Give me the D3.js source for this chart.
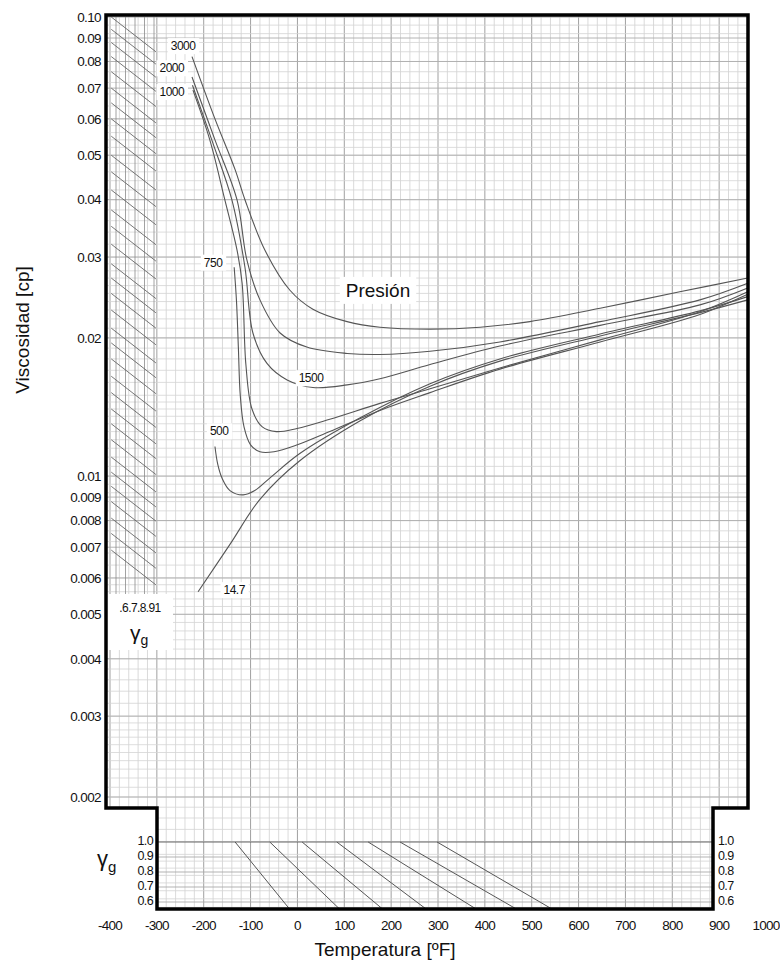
<!DOCTYPE html>
<html><head><meta charset="utf-8">
<script src="https://cdn.jsdelivr.net/npm/d3@7"></script>
<style>body{margin:0;background:#fff}svg{display:block}text{font-family:"Liberation Sans",Arial,sans-serif;fill:#111}</style>
</head><body><svg id="c" width="780" height="974"></svg>
<script>
// ---------- data ----------
const tempTicks=[-400,-300,-200,-100,0,100,200,300,400,500,600,700,800,900,1000];
const viscTicks=[0.1,0.09,0.08,0.07,0.06,0.05,0.04,0.03,0.02,0.01,0.009,0.008,0.007,0.006,0.005,0.004,0.003,0.002];
const viscTickLabels=["0.10","0.09","0.08","0.07","0.06","0.05","0.04","0.03","0.02","0.01","0.009","0.008","0.007","0.006","0.005","0.004","0.003","0.002"];
const pressureNames=["3000","2000","1500","1000","750","500","14.7"];
const curve3000=[[-225,0.082],[-176,0.060],[-133,0.0465],[-112,0.040],[-69,0.031],[-16,0.0254],[33,0.0231],[106,0.0217],[176,0.0211],[283,0.0209],[390,0.0211],[496,0.0217],[646,0.0232],[816,0.0252],[961,0.0270]];
const curve2000=[[-225,0.074],[-176,0.054],[-129,0.040],[-108,0.0296],[-80,0.0242],[-37,0.0205],[20,0.0191],[106,0.0185],[176,0.0184],[283,0.0187],[432,0.0196],[646,0.0217],[859,0.0242],[961,0.0263]];
const curve1500=[[-224,0.071],[-180,0.053],[-140,0.040],[-112,0.0285],[-95,0.0205],[-65,0.0176],[-22,0.0162],[33,0.0156],[106,0.0158],[176,0.0163],[283,0.0175],[432,0.0192],[646,0.0213],[859,0.0236],[961,0.0257]];
const curve1000=[[-223,0.0693],[-187,0.054],[-155,0.040],[-129,0.0311],[-118,0.0263],[-110,0.0175],[-97,0.0140],[-75,0.0128],[-45,0.0125],[-1,0.0127],[69,0.0133],[176,0.0144],[283,0.0155],[432,0.0172],[646,0.0198],[859,0.0228],[961,0.0252]];
const curve750=[[-135,0.0285],[-130,0.0240],[-126,0.0190],[-122,0.0150],[-114,0.0128],[-100,0.0117],[-80,0.0113],[-50,0.0113],[0,0.0117],[69,0.0125],[176,0.0139],[283,0.0152],[432,0.0171],[646,0.0196],[859,0.0225],[961,0.0249]];
const curve500=[[-176,0.0116],[-170,0.0106],[-161,0.0099],[-144,0.0093],[-116,0.0091],[-91,0.0093],[-59,0.0099],[5,0.0112],[134,0.0134],[283,0.0159],[432,0.0180],[646,0.0204],[859,0.0229],[961,0.0246]];
const curve14_7=[[-212,0.0056],[-144,0.0071],[-80,0.0089],[5,0.0108],[134,0.0132],[283,0.0157],[432,0.0178],[646,0.0202],[859,0.0227],[961,0.0242]];
const curveLabels=[["3000",-244,0.0865],["2000",-268,0.0774],["1000",-268,0.0687],["750",-180,0.0292],["1500",29,0.01635],["500",-167,0.01253],["14.7",-135,0.00565]];
const gammaTicks=[1.0,0.9,0.8,0.7,0.6];
const gammaTickLabels=["1.0","0.9","0.8","0.7","0.6"];
const gammaLeftVals=[0.6,0.7,0.8,0.9,1.0];
const gammaLeftDiagStarts=[0.1,0.094,0.088,0.082,0.076,0.07,0.065,0.06,0.055,0.05,0.046,0.042,0.038,0.035,0.032,0.029,0.027,0.025,0.023,0.021,0.0195,0.018,0.0165,0.0152,0.014,0.013,0.012,0.011,0.0102,0.0095,0.0088,0.0081,0.0075,0.0069];
const gammaDiagRatio=0.84;
const gammaBottomStarts=[-133,-59,10,84,151,219,298];
const gammaBottomEnds=[-16,91,183,276,383,469,545];

// ---------- layout ----------
const svg=d3.select("#c");
const x=d3.scaleLinear().domain([-400,1000]).range([110,766]);
const y=d3.scaleLog().domain([0.1,0.002]).range([17,797]);
const gyB=d3.scaleLinear().domain([0.6,1.0]).range([902,842]);
const gxL=d3.scaleLinear().domain([0.6,1.0]).range([116,154]);
const F={l:106,t:15,r:748,step:808,ll:157,lr:713,b:909};
const framePts=[[F.l,F.t],[F.r,F.t],[F.r,F.step],[F.lr,F.step],[F.lr,F.b],[F.ll,F.b],[F.ll,F.step],[F.l,F.step]];

svg.append("clipPath").attr("id","fr").append("polygon").attr("points",framePts.map(p=>p.join(",")).join(" "));
const g=svg.append("g").attr("clip-path","url(#fr)");

const vMinor=d3.range(-420,1001,20);
g.selectAll(".vg").data(vMinor).join("line")
 .attr("x1",d=>x(d)).attr("x2",d=>x(d)).attr("y1",F.t).attr("y2",F.b)
 .attr("stroke",d=>d%100===0?"#a0a0a0":"#d0d0d0").attr("stroke-width",d=>d%100===0?1:0.8);
const hMinor=[];
[0.0001,0.001,0.01].forEach(dec=>{
  for(let m=1;m<1.5-1e-9;m+=0.05)hMinor.push(dec*m);
  for(let m=1.5;m<3-1e-9;m+=0.1)hMinor.push(dec*m);
  for(let m=3;m<6-1e-9;m+=0.2)hMinor.push(dec*m);
  for(let m=6;m<10-1e-9;m+=0.4)hMinor.push(dec*m);
});
hMinor.push(0.1);
g.selectAll(".hg").data(hMinor.filter(v=>v>=0.0011)).join("line")
 .attr("x1",F.l).attr("x2",F.r).attr("y1",d=>y(d)).attr("y2",d=>y(d))
 .attr("stroke","#d4d4d4").attr("stroke-width",0.8);
g.selectAll(".hM").data(viscTicks).join("line")
 .attr("x1",F.l).attr("x2",F.r).attr("y1",d=>y(d)).attr("y2",d=>y(d))
 .attr("stroke","#acacac").attr("stroke-width",0.9);

// left gamma panel
const lp=svg.append("g").attr("clip-path","url(#fr)");
lp.selectAll(".lv").data(gammaLeftVals).join("line")
 .attr("x1",d=>gxL(d)).attr("x2",d=>gxL(d)).attr("y1",F.t+2).attr("y2",598)
 .attr("stroke","#8a8a8a").attr("stroke-width",0.8);
lp.selectAll(".ld").data(gammaLeftDiagStarts).join("line")
 .attr("x1",gxL(0.55)).attr("x2",gxL(1.02)).attr("y1",d=>y(d)).attr("y2",d=>Math.min(598,y(d*gammaDiagRatio)))
 .attr("stroke","#666").attr("stroke-width",0.9);

// bottom gamma panel
const bp=svg.append("g").attr("clip-path","url(#fr)");
bp.selectAll(".bh").data(gammaTicks).join("line")
 .attr("x1",F.ll).attr("x2",F.lr).attr("y1",d=>gyB(d)).attr("y2",d=>gyB(d))
 .attr("stroke",d=>d===1.0?"#666":"#aaa").attr("stroke-width",d=>d===1.0?1.1:0.9);
bp.selectAll(".bd").data(d3.zip(gammaBottomStarts,gammaBottomEnds)).join("line")
 .attr("x1",d=>x(d[0])).attr("y1",gyB(1.0)).attr("x2",d=>x(d[1])).attr("y2",gyB(0.55))
 .attr("stroke","#555").attr("stroke-width",1);

// curves
const curves=[curve3000,curve2000,curve1500,curve1000,curve750,curve500,curve14_7];
const line=d3.line().x(d=>x(d[0])).y(d=>y(d[1])).curve(d3.curveCatmullRom.alpha(0.5));
svg.append("g").selectAll("path").data(curves).join("path")
 .attr("d",line).attr("fill","none").attr("stroke","#555").attr("stroke-width",1.1);

// labels
const cl=svg.append("g");
curveLabels.forEach(([t,T,v])=>{
  const tx=cl.append("text").attr("x",x(T)).attr("y",y(v)).attr("text-anchor","middle").attr("dy","0.35em")
   .style("font-size","12px").style("letter-spacing","-0.5px").text(t);
  const bb=tx.node().getBBox();
  cl.insert("rect","text").attr("x",bb.x-3).attr("y",bb.y-1).attr("width",bb.width+6).attr("height",bb.height+2).attr("fill","#fff");
});
{
  const tx=cl.append("text").attr("x",x(172)).attr("y",y(0.0254)).attr("text-anchor","middle").attr("dy","0.35em")
   .style("font-size","19px").text("Presión");
  const bb=tx.node().getBBox();
  cl.insert("rect","text").attr("x",bb.x-6).attr("y",bb.y-3).attr("width",bb.width+12).attr("height",bb.height+6).attr("fill","#fff");
}
cl.append("rect").attr("x",F.l+1).attr("y",594).attr("width",66).attr("height",56).attr("fill","#fff");
cl.append("text").attr("x",140).attr("y",612).attr("text-anchor","middle").style("font-size","12px").style("letter-spacing","-0.6px").text(".6.7.8.91");
const gl=cl.append("text").attr("x",130).attr("y",640).style("font-size","21px");
gl.append("tspan").text("γ");
gl.append("tspan").attr("dy",5).style("font-size","14px").text("g");

// frame
svg.append("polygon").attr("points",framePts.map(p=>p.join(",")).join(" "))
 .attr("fill","none").attr("stroke","#000").attr("stroke-width",3.5).attr("stroke-linejoin","miter");

// ticks
svg.append("g").selectAll("text").data(viscTicks).join("text")
 .attr("x",101).attr("y",d=>y(d)).attr("dy","0.35em").attr("text-anchor","end")
 .style("font-size","13.5px").style("letter-spacing","-0.6px").text((d,i)=>viscTickLabels[i]);
svg.append("g").selectAll("text").data(tempTicks).join("text")
 .attr("x",d=>x(d)).attr("y",925).attr("dy","0.35em").attr("text-anchor","middle")
 .style("font-size","13.5px").style("letter-spacing","-0.8px").text(d=>d);
svg.append("g").selectAll("text").data(gammaTicks).join("text")
 .attr("x",F.ll-4).attr("y",d=>gyB(d)-1).attr("dy","0.35em").attr("text-anchor","end")
 .style("font-size","12.5px").style("letter-spacing","-0.6px").text((d,i)=>gammaTickLabels[i]);
svg.append("g").selectAll("text").data(gammaTicks).join("text")
 .attr("x",F.lr+5).attr("y",d=>gyB(d)-1).attr("dy","0.35em").attr("text-anchor","start")
 .style("font-size","12.5px").style("letter-spacing","-0.6px").text((d,i)=>gammaTickLabels[i]);
const gb=svg.append("text").attr("x",97).attr("y",866).style("font-size","22px");
gb.append("tspan").text("γ");
gb.append("tspan").attr("dy",6).style("font-size","15px").text("g");

svg.append("text").attr("x",385).attr("y",956).attr("text-anchor","middle").style("font-size","19px").text("Temperatura [ºF]");
svg.append("text").attr("transform","translate(29,330) rotate(-90)").attr("text-anchor","middle").style("font-size","19px").text("Viscosidad [cp]");
</script></body></html>
